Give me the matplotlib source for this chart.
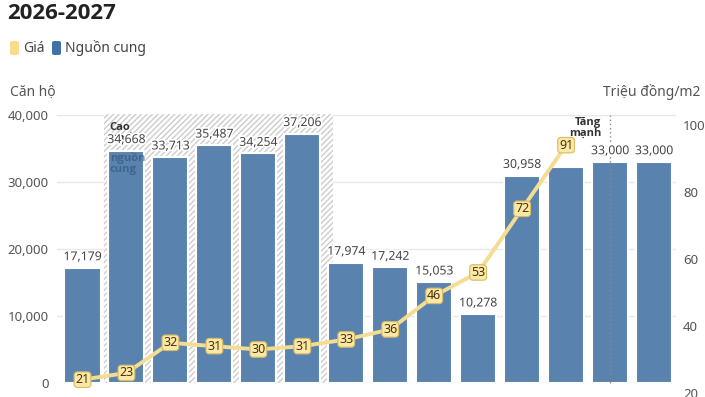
import matplotlib.pyplot as plt
import matplotlib.patheffects as pe
from matplotlib.patches import Rectangle, FancyBboxPatch
from matplotlib.transforms import offset_copy

plt.rcParams['font.family'] = ['Noto Sans', 'DejaVu Sans']
BOLD = ['Open Sans', 'DejaVu Sans']

# supply (apartments) and price (million VND / m2)
supply = [17179, 34668, 33713, 35487, 34254, 37206, 17974, 17242,
          15053, 10278, 30958, 32300, 33000, 33000]
supply_labels = ["17,179", "34,668", "33,713", "35,487", "34,254", "37,206",
                 "17,974", "17,242", "15,053", "10,278", "30,958", "",
                 "33,000", "33,000"]
price = [21, 23, 32, 31, 30, 31, 33, 36, 46, 53, 72, 91]
left_ticks = [0, 10000, 20000, 30000, 40000]
right_ticks = [20, 40, 60, 80, 100]

bar_color = "#5983ae"
line_color = "#f4dc92"
grid_color = "#e8e8e8"

fig = plt.figure(figsize=(7.05, 3.97), dpi=100)
ax = fig.add_axes([57 / 705, 14 / 397, 619 / 705, 268 / 397])
ax2 = ax.twinx()

x = list(range(len(supply)))

# hatched "peak supply" zone
ax.add_patch(Rectangle((0.5, 0), 5.2, 40200, facecolor="white",
                       edgecolor="#cccccc", hatch="//////", linewidth=0,
                       zorder=1, clip_on=False))

ax.bar(x, supply, width=0.82, color=bar_color, edgecolor="white",
       linewidth=1.5, zorder=2)

ax.text(0.62, 39000, "Cao\nnhất", fontsize=8, fontweight="bold", family=BOLD,
        color="#333333", va="top", ha="left", linespacing=1.0, zorder=1.5)
ax.text(0.62, 34500, "nguồn\ncung", fontsize=8, fontweight="bold", family=BOLD,
        color="#2f5176", va="top", ha="left", linespacing=1.0, zorder=2.2,
        alpha=0.6)

for xi, v, lab in zip(x, supply, supply_labels):
    if lab:
        ax.text(xi, v + 700, lab, ha="center", va="bottom", fontsize=8.8,
                color="#444444", zorder=3,
                path_effects=[pe.withStroke(linewidth=2.5, foreground="white")])

# "Tăng mạnh" marker
ax.plot([12, 12], [0, 40300], linestyle=(0, (1, 2)), color="#888888",
        linewidth=1, zorder=2.5, clip_on=False)
ax.text(11.8, 39700, "Tăng\nmạnh", fontsize=8, fontweight="bold", family=BOLD,
        color="#333333", ha="right", va="top", linespacing=0.95, zorder=3)

ax.set_ylim(0, 40000)
ax.set_xlim(-0.58, 13.5)
ax.set_yticks(left_ticks)
ax.set_yticklabels([f"{t:,}" for t in left_ticks], fontsize=9.5, color="#555555")
ax.set_xticks([])
ax.grid(axis="y", color=grid_color, linewidth=1, zorder=0)
ax.set_axisbelow(True)
ax.tick_params(axis="y", length=0, pad=6)
for s in ax.spines.values():
    s.set_visible(False)

# price line
ax2.plot(x[:len(price)], price, color=line_color, linewidth=2.8, zorder=4,
         solid_capstyle="round")
for xi, p in zip(x, price):
    ax2.text(xi, p, str(p), ha="center", va="center", fontsize=9,
             color="#4a3208", zorder=5,
             bbox=dict(boxstyle="round,pad=0.1,rounding_size=0.25",
                       facecolor="#fbe8a6", edgecolor="#d9bb62", linewidth=0.8))
ax2.set_ylim(20, 100)
ax2.set_yticks(right_ticks)
ax2.set_yticklabels([str(t) for t in right_ticks], fontsize=9.5, color="#555555")
ax2.tick_params(axis="y", length=0, pad=5)
for lbl in ax2.get_yticklabels():
    lbl.set_transform(offset_copy(lbl.get_transform(), fig=fig, y=-10, units="dots"))
for s in ax2.spines.values():
    s.set_visible(False)
ax.set_zorder(1)
ax2.set_zorder(2)
ax2.patch.set_visible(False)

# title, legend, axis titles
fig.text(7 / 705, 1 - 19 / 397, "2026-2027", fontsize=16, fontweight="bold",
         family=BOLD, color="#222222", ha="left", va="baseline")
fig.patches.append(FancyBboxPatch((10 / 705, 1 - 55 / 397), 9 / 705, 14 / 397,
                                  boxstyle="round,pad=0,rounding_size=0.004",
                                  facecolor="#f8dc8c", edgecolor="none",
                                  transform=fig.transFigure, figure=fig))
fig.text(23 / 705, 1 - 48 / 397, "Giá", fontsize=10, color="#444444",
         ha="left", va="center")
fig.patches.append(FancyBboxPatch((52 / 705, 1 - 55 / 397), 9 / 705, 14 / 397,
                                  boxstyle="round,pad=0,rounding_size=0.004",
                                  facecolor="#3f73a6", edgecolor="none",
                                  transform=fig.transFigure, figure=fig))
fig.text(65 / 705, 1 - 48 / 397, "Nguồn cung", fontsize=10, color="#444444",
         ha="left", va="center")
fig.text(10 / 705, 1 - 92 / 397, "Căn hộ", fontsize=10, color="#555555",
         ha="left", va="center")
fig.text(700 / 705, 1 - 92 / 397, "Triệu đồng/m2", fontsize=10, color="#555555",
         ha="right", va="center")

fig.savefig("out.png", dpi=100)
